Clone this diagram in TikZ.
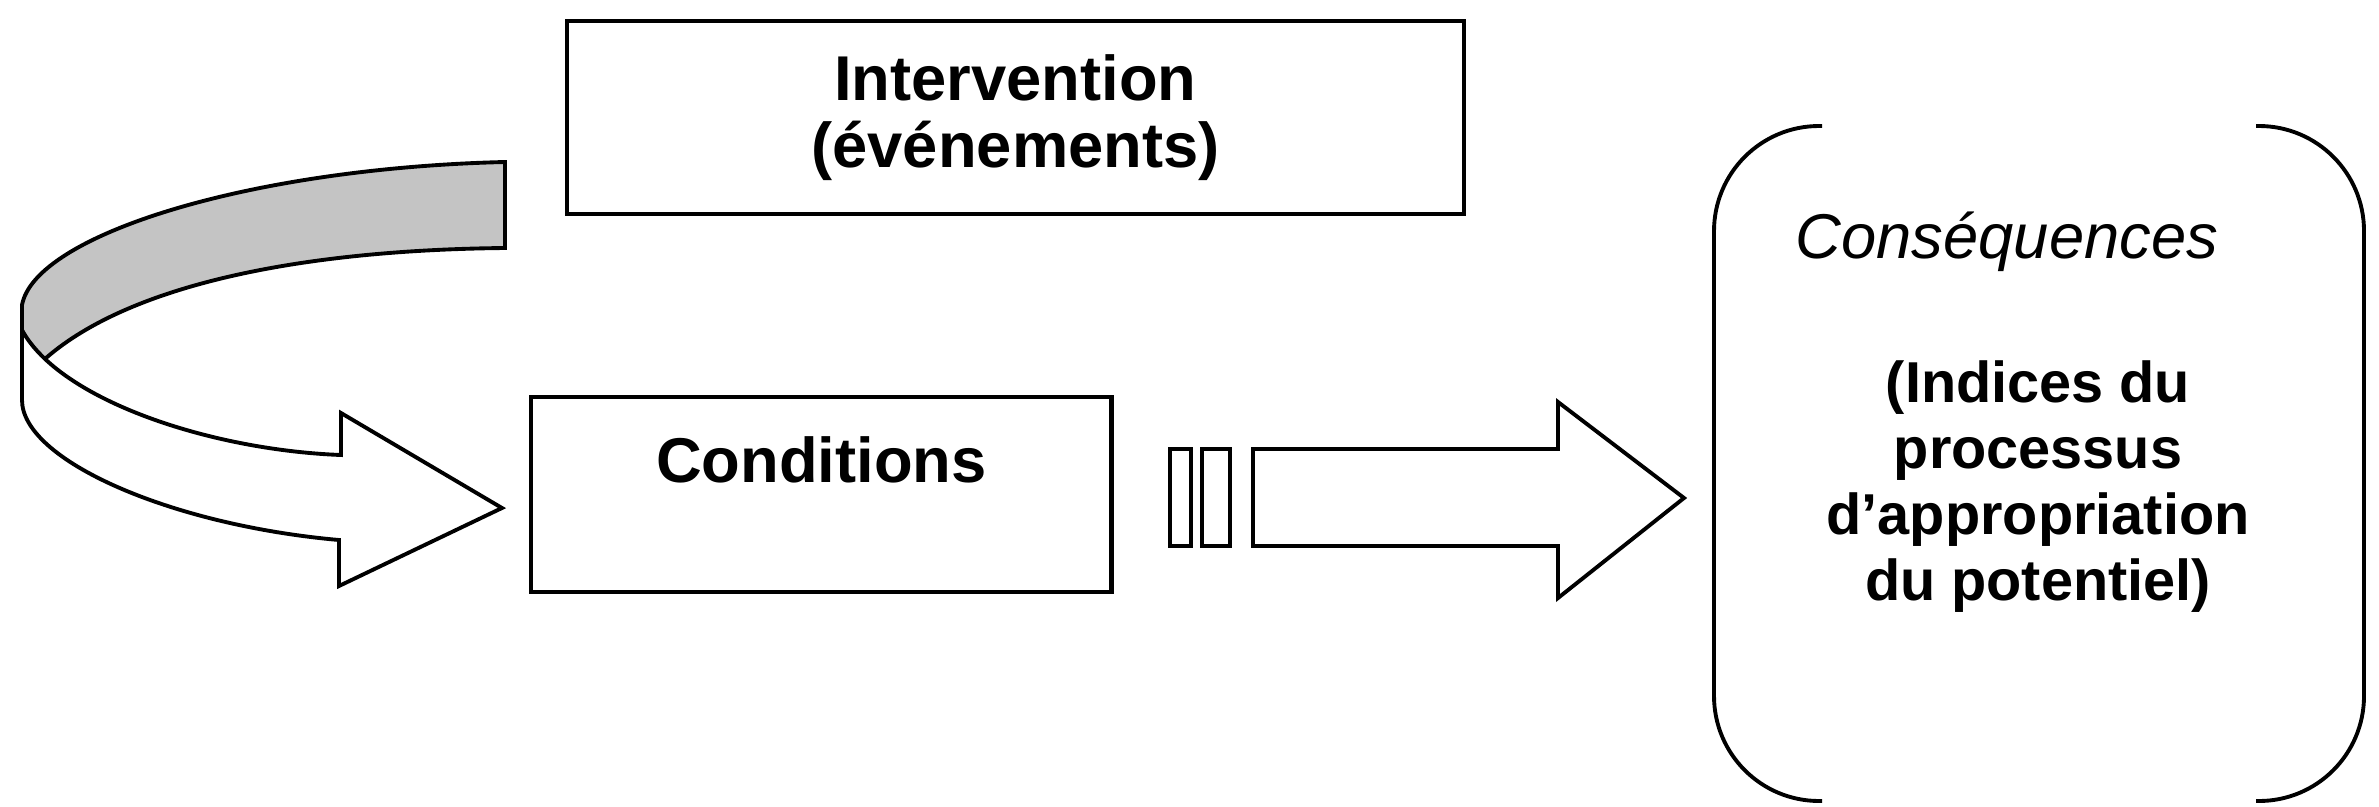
\documentclass[tikz,border=0pt]{standalone}
\usepackage{fontspec}
\setmainfont{Liberation Sans}
\usetikzlibrary{positioning}
\definecolor{bandgray}{gray}{0.77}

\begin{document}
\begin{tikzpicture}[x=0.01cm, y=-0.01cm,
    box/.style={draw, line width=1.2pt, rectangle, inner sep=0pt},
    blockarrow/.style={draw, line width=1.1pt, line join=miter, fill=white},
    bracket/.style={draw, line width=1.1pt, rounded corners=1.05cm},
    boldlabel/.style={font=\fontsize{18}{19.2}\selectfont\bfseries}]
  \useasboundingbox (0,0) rectangle (2379,806);

  \node[box, boldlabel, align=center, minimum width=8.97cm, minimum height=1.93cm] (interv) at (1015.5,117.5) {Intervention\\(événements)};
  \node[box, boldlabel, minimum width=5.8cm, text height=0.85cm, text depth=1.1cm, anchor=north west] (cond) at (529,395) {Conditions};

  \node[font=\fontsize{18}{20}\selectfont\itshape, anchor=base west, inner sep=0pt] (conshead) at (1795,258) {Conséquences};
  \node[font=\fontsize{16.4}{18.8}\selectfont\bfseries, align=center, anchor=north, inner sep=0pt] (consbody) at (2038,360) {(Indices du\\processus\\d’appropriation\\du potentiel)};
  \draw[bracket] (1822,126) -| (1714,801) -- (1822,801);
  \draw[bracket] (2256,126) -| (2364,801) -- (2256,801);

  \draw[blockarrow] (1170,449) rectangle (1191,546);
  \draw[blockarrow] (1202,449) rectangle (1230,546);
  \draw[blockarrow] (1253,449) -- (1558,449) -- (1558,402) -- (1684,498) -- (1558,598) -- (1558,546) -- (1253,546) -- cycle;

  \fill[bandgray] (505,162) .. controls (250,168) and (35,235) .. (22,305) -- (22,372) -- (46,358) .. controls (130,285) and (300,250) .. (505,248) -- cycle;
  \draw[line width=1.1pt] (22,330) -- (22,305) .. controls (35,235) and (250,168) .. (505,162) -- (505,248) .. controls (300,250) and (130,285) .. (46,358);
  \draw[blockarrow] (22,330) -- (22,400) .. controls (22,460) and (170,525) .. (339,540) -- (339,586) -- (502,508) -- (341,413) -- (341,455) .. controls (210,450) and (60,400) .. (22,330) -- cycle;
\end{tikzpicture}
\end{document}
